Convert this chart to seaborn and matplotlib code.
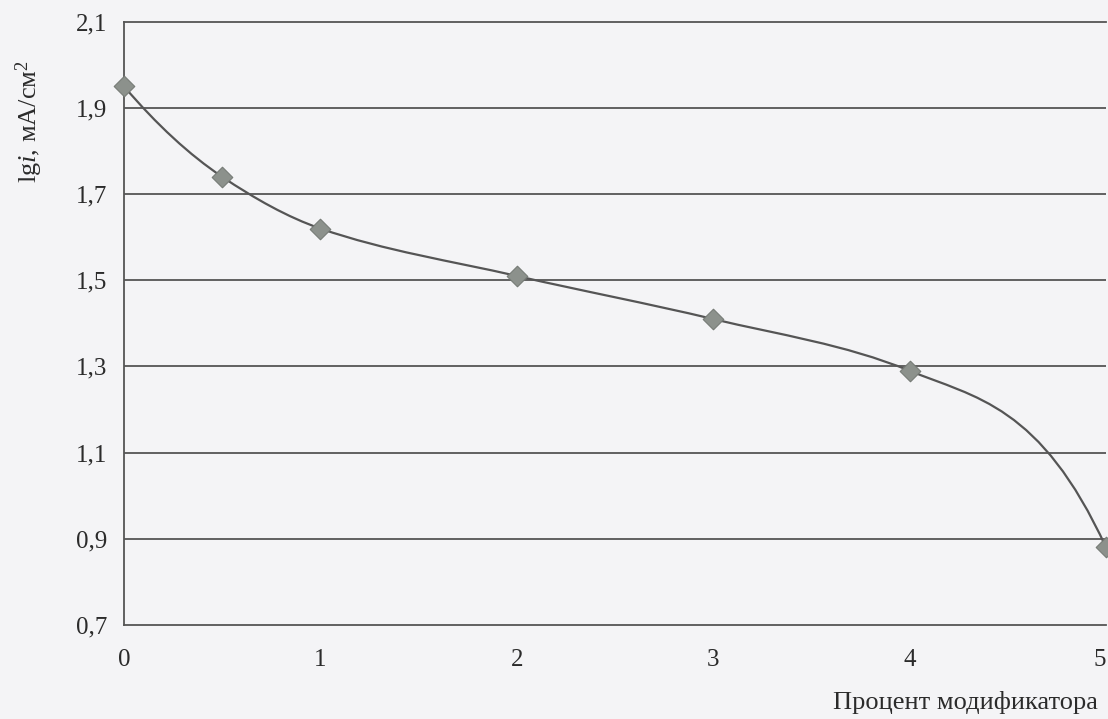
import matplotlib
matplotlib.use("Agg")
import matplotlib.pyplot as plt
from matplotlib.path import Path
from matplotlib.patches import PathPatch
import pandas as pd
import seaborn as sns

# Measured data: modifier content (%) vs. log of current density
modifier_pct = [0, 0.5, 1, 2, 3, 4, 5]
lg_current = [1.95, 1.74, 1.62, 1.51, 1.41, 1.29, 0.88]

x_ticks = [0, 1, 2, 3, 4, 5]
y_ticks = [0.7, 0.9, 1.1, 1.3, 1.5, 1.7, 1.9, 2.1]
y_ticklabels = ["0,7", "0,9", "1,1", "1,3", "1,5", "1,7", "1,9", "2,1"]

x_label = "Процент модификатора"
y_label = "lg$\\mathit{i}$, мА/см$^{2}$"

BG = "#f4f4f6"
INK = "#2b2b2b"
LINE = "#555555"

# end behaviour of the smoothing spline (how strongly curvature carries on at the ends)
END_BEND_START = 1.0
END_BEND_STOP = 2.6

sns.set_theme(style="white")
plt.rcParams["font.family"] = ["Liberation Serif", "DejaVu Serif"]
plt.rcParams["mathtext.fontset"] = "custom"
plt.rcParams["mathtext.rm"] = "Liberation Serif"
plt.rcParams["mathtext.it"] = "Liberation Serif:italic"

df = pd.DataFrame({"pct": modifier_pct, "lgi": lg_current})

W, H = 1108, 719
fig = plt.figure(figsize=(W / 100, H / 100), dpi=100, facecolor=BG)
ax = fig.add_axes([124 / W, 1 - 625 / H, (1106 - 124) / W, (625 - 21.7) / H])
ax.set_facecolor(BG)

ax.set_xlim(0, 5)
ax.set_ylim(0.7, 2.1)

# horizontal grid
for yv in y_ticks[1:-1]:
    ax.axhline(yv, color=LINE, lw=1.3, zorder=1)

for side in ("left", "bottom", "top"):
    ax.spines[side].set_color(LINE)
    ax.spines[side].set_linewidth(1.3)
ax.spines["right"].set_visible(False)

# smoothed curve: shape-preserving cubic Hermite spline, drawn as a Bezier path
xs = list(df["pct"])
ys = list(df["lgi"])
n = len(xs)
h = [xs[i + 1] - xs[i] for i in range(n - 1)]
d = [(ys[i + 1] - ys[i]) / h[i] for i in range(n - 1)]
slopes = [0.0] * n
for i in range(1, n - 1):
    if d[i - 1] * d[i] <= 0:
        slopes[i] = 0.0
    else:
        w1 = 2 * h[i] + h[i - 1]
        w2 = h[i] + 2 * h[i - 1]
        slopes[i] = (w1 + w2) / (w1 / d[i - 1] + w2 / d[i])
slopes[0] = d[0] + END_BEND_START * (d[0] - slopes[1])
slopes[-1] = d[-1] + END_BEND_STOP * (d[-1] - slopes[-2])

verts = [(xs[0], ys[0])]
codes = [Path.MOVETO]
for i in range(n - 1):
    verts += [(xs[i] + h[i] / 3, ys[i] + slopes[i] * h[i] / 3),
              (xs[i + 1] - h[i] / 3, ys[i + 1] - slopes[i + 1] * h[i] / 3),
              (xs[i + 1], ys[i + 1])]
    codes += [Path.CURVE4] * 3
ax.add_patch(PathPatch(Path(verts, codes), facecolor="none", edgecolor=LINE,
                       lw=1.6, zorder=3, clip_on=False))

sns.scatterplot(data=df, x="pct", y="lgi", ax=ax, marker="D", s=110,
                color="#8c918c", edgecolor="#767b76", linewidth=0.8,
                zorder=4, clip_on=False, legend=False)

ax.set_xticks(x_ticks)
ax.set_xticklabels([str(t) for t in x_ticks], fontsize=18, color=INK)
ax.get_xticklabels()[-1].set_horizontalalignment("right")
ax.set_yticks(y_ticks)
ax.set_yticklabels(y_ticklabels, fontsize=18, color=INK)
ax.tick_params(axis="y", length=0, pad=12)
ax.tick_params(axis="x", length=0, pad=17)
ax.set_xlabel("")
ax.set_ylabel("")

fig.text(1098 / W, 1 - 703 / H, x_label, fontsize=19, color=INK,
         ha="right", va="center")
fig.text(29 / W, 1 - 122 / H, y_label, fontsize=19, color=INK,
         rotation=90, ha="center", va="center")

fig.savefig("out.png", dpi=100, facecolor=BG)
